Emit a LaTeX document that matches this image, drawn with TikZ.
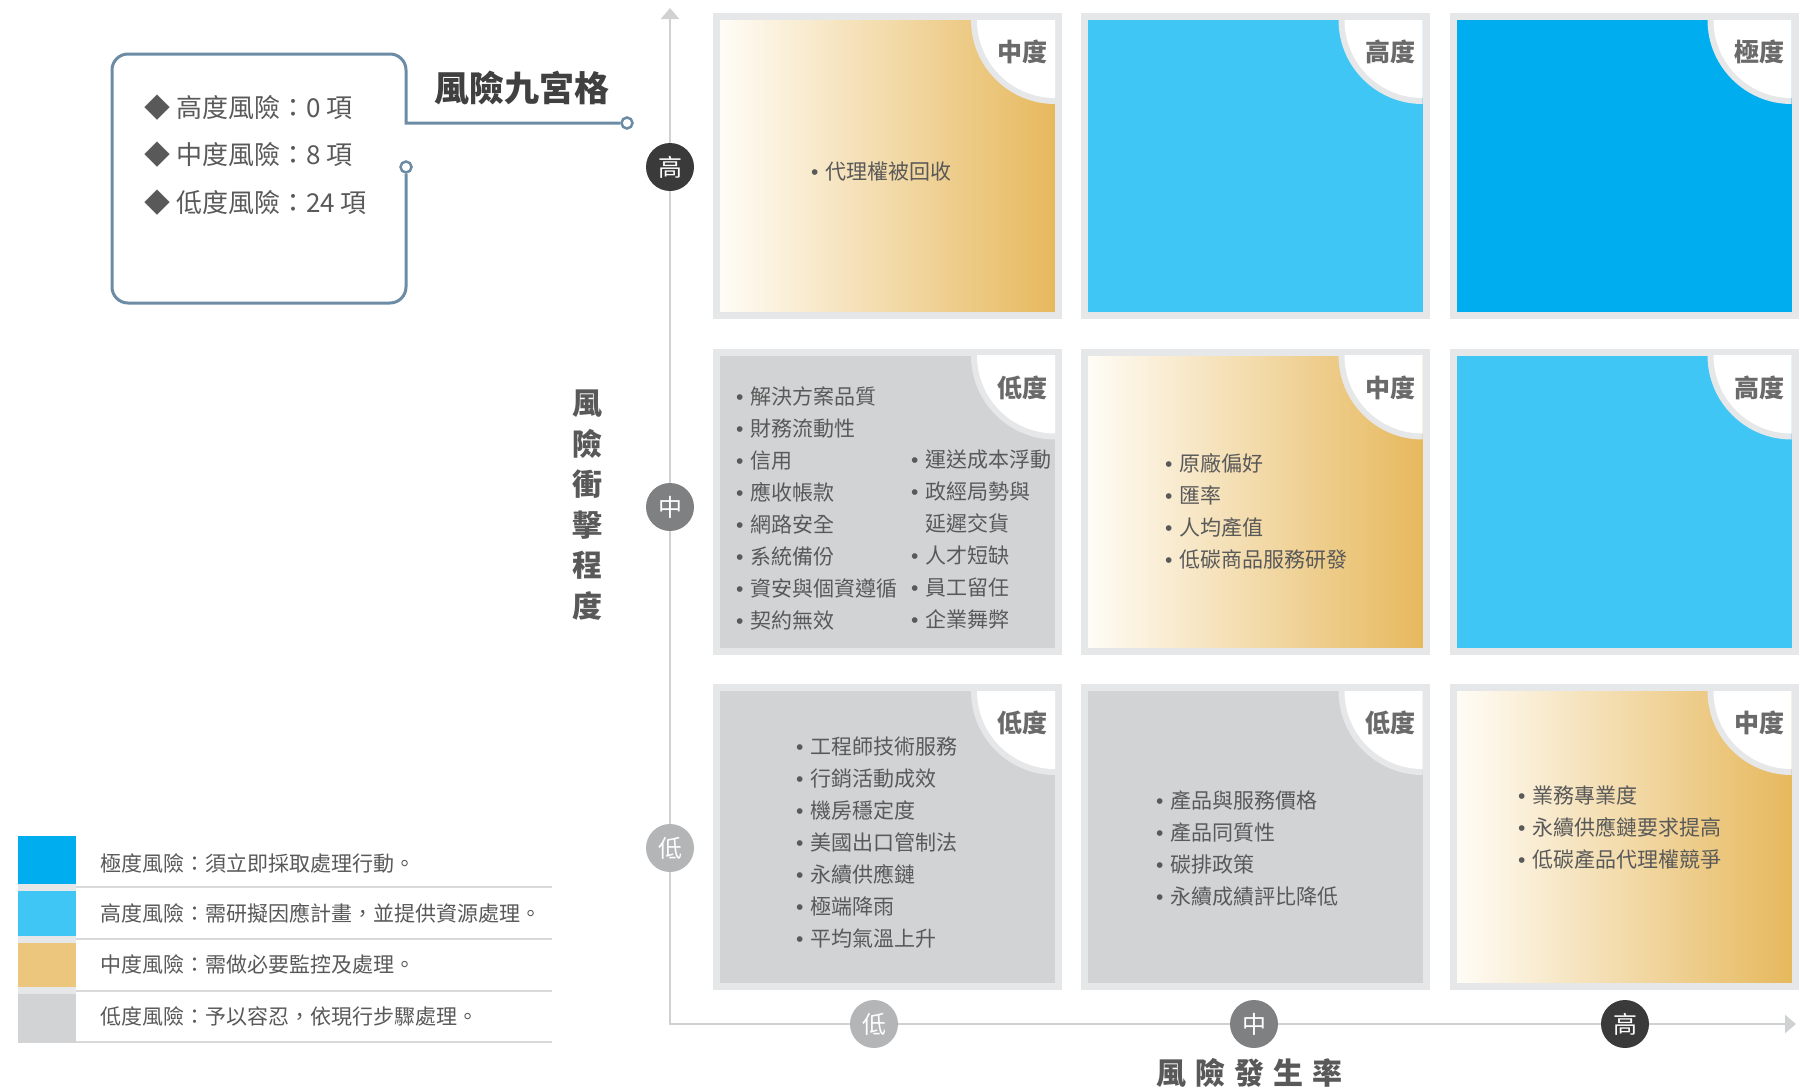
\documentclass[tikz,border=0pt]{standalone}
\usepackage{fontspec}
\setmainfont{Noto Sans CJK TC}
\newfontfamily\latinf{Liberation Sans}
\usepackage{xcolor}
\usetikzlibrary{arrows.meta, positioning, calc}

\definecolor{cellborder}{HTML}{E6E7E8}
\definecolor{lowgray}{HTML}{D1D3D4}
\definecolor{highblue}{HTML}{3FC6F4}
\definecolor{extblue}{HTML}{00AEEF}
\definecolor{goldstart}{HTML}{FFFDF8}
\definecolor{goldend}{HTML}{E6B85C}
\definecolor{goldswatch}{HTML}{EBC67C}
\definecolor{boxblue}{HTML}{6C8CA5}
\definecolor{axisgray}{HTML}{D0D1D3}
\definecolor{textgray}{HTML}{595959}
\definecolor{labgray}{HTML}{6A6A6A}
\definecolor{dothigh}{HTML}{3A3A3A}
\definecolor{dotmid}{HTML}{7F8082}
\definecolor{dotlow}{HTML}{B4B5B7}

\newcommand{\bul}{{\latinf •}\hspace{6.5pt}}

% one cell of the grid: name, x, y, fill style, corner label
\newcommand{\riskcell}[5]{%
  \node[cellbox, #4] (#1) at (#2,#3) {};
  \begin{scope}
    \clip ($(#1.south west)+(3.5,-3.5)$) rectangle ($(#1.north east)+(-3.5,3.5)$);
    \fill[cellborder] ($(#1.north east)+(-3.5,3.5)$) circle (84pt);
    \fill[white] ($(#1.north east)+(-3.5,3.5)$) circle (78pt);
  \end{scope}
  \node[cornerlab, anchor=east] (#1-lab) at ($(#1.north east)+(-10.5,35.5)$) {#5};
}

\begin{document}
\begin{tikzpicture}[
  x=1pt, y=-1pt,
  cellbox/.style={draw=cellborder, line width=7pt, minimum width=342pt, minimum height=299pt, inner sep=0pt, outer sep=0pt},
  lowfill/.style={fill=lowgray},
  midfill/.style={left color=goldstart, right color=goldend},
  highfill/.style={fill=highblue},
  extfill/.style={fill=extblue},
  cornerlab/.style={font=\fontsize{25}{28}\selectfont\bfseries, text=labgray, inner sep=0pt},
  items/.style={font=\fontsize{21}{32}\selectfont, text=textgray, align=left, inner sep=0pt, anchor=west},
  axdot/.style={circle, minimum size=48pt, inner sep=0pt, text=white, font=\fontsize{24}{26}\selectfont},
  axisline/.style={draw=axisgray, line width=2.5pt},
  axislab/.style={text=textgray, inner sep=0pt, font=\fontsize{30}{40.6}\selectfont\bfseries},
  boxline/.style={draw=boxblue, line width=3pt},
  pindot/.style={circle, draw=boxblue, line width=2.5pt, fill=white, minimum size=11pt, inner sep=0pt},
  titlelab/.style={font=\fontsize{35}{38}\selectfont\bfseries, text=black!75, inner sep=0pt},
  boxlist/.style={font=\fontsize{26}{47.5}\selectfont, text=textgray, align=left, inner sep=0pt, anchor=west},
  swatch/.style={minimum width=58pt, inner sep=0pt, outer sep=0pt},
  legtext/.style={font=\fontsize{21}{24}\selectfont, text=textgray, anchor=west, inner sep=0pt},
  sepline/.style={draw=black!15, line width=2pt}
]
\fill[white] (0,0) rectangle (1800,1092);
\useasboundingbox (0,0) rectangle (1800,1092);

% axes
\coordinate (ytop) at (670,8);
\coordinate (origin) at (670,1024);
\coordinate (xend) at (1796,1024);
\draw[axisline, {Triangle[width=18pt,length=11pt]}-{Triangle[width=18pt,length=11pt]}] (ytop) -- (origin) -- (xend);

% grid
\riskcell{cellHL}{887.5}{166}{midfill}{中度}
\riskcell{cellHM}{1255}{166}{highfill}{高度}
\riskcell{cellHH}{1624}{166}{extfill}{極度}
\riskcell{cellML}{887.5}{501.5}{lowfill}{低度}
\riskcell{cellMM}{1255}{501.5}{midfill}{中度}
\riskcell{cellMH}{1624}{501.5}{highfill}{高度}
\riskcell{cellLL}{887.5}{837}{lowfill}{低度}
\riskcell{cellLM}{1255}{837}{lowfill}{低度}
\riskcell{cellLH}{1624}{837}{midfill}{中度}

% risk items
\node[items] (listHL) at (811,172) {\bul 代理權被回收};
\node[items] (listML) at (736,508) {\bul 解決方案品質\\\bul 財務流動性\\\bul 信用\\\bul 應收帳款\\\bul 網路安全\\\bul 系統備份\\\bul 資安與個資遵循\\\bul 契約無效};
\node[items] (listMLb) at (911,540) {\bul 運送成本浮動\\\bul 政經局勢與\\\hphantom{\bul}延遲交貨\\\bul 人才短缺\\\bul 員工留任\\\bul 企業舞弊};
\node[items] (listMM) at (1165,511) {\bul 原廠偏好\\\bul 匯率\\\bul 人均產值\\\bul 低碳商品服務研發};
\node[items] (listLL) at (796,842.5) {\bul 工程師技術服務\\\bul 行銷活動成效\\\bul 機房穩定度\\\bul 美國出口管制法\\\bul 永續供應鏈\\\bul 極端降雨\\\bul 平均氣溫上升};
\node[items] (listLM) at (1156,848) {\bul 產品與服務價格\\\bul 產品同質性\\\bul 碳排政策\\\bul 永續成績評比降低};
\node[items] (listLH) at (1518,828) {\bul 業務專業度\\\bul 永續供應鏈要求提高\\\bul 低碳產品代理權競爭};

% axis marks
\node[axdot, fill=dothigh] (yHigh) at (670,167) {高};
\node[axdot, fill=dotmid] (yMid) at (670,507) {中};
\node[axdot, fill=dotlow] (yLow) at (670,848) {低};
\node[axdot, fill=dotlow] (xLow) at (874,1024) {低};
\node[axdot, fill=dotmid] (xMid) at (1254,1024) {中};
\node[axdot, fill=dothigh] (xHigh) at (1625,1024) {高};

\node[axislab, align=center] (yTitle) at (587,505) {風\\險\\衝\\擊\\程\\度};
\node[axislab] (xTitle) at (1249,1073) {風\hspace{9pt}險\hspace{9pt}發\hspace{9pt}生\hspace{9pt}率};

% summary box
\node[pindot] (dotTitle) at (627,123) {};
\node[pindot] (dotBox) at (406,167) {};
\draw[boxline] (dotBox.south) [rounded corners=16pt] -- (406,303) -- (112,303) -- (112,54) -- (406,54) -- (406,100) [sharp corners] -- (406,123) -- (dotTitle.west);
\node[titlelab] (title) at (522,88) {風險九宮格};
\node[boxlist] (counts) at (144,155) {◆ 高度風險：0 項\\◆ 中度風險：8 項\\◆ 低度風險：24 項};

% legend
\fill[cellborder] (18,836) rectangle (76,1043);
\node[swatch, fill=extblue, minimum height=48pt] (swExt) at (47,860) {};
\node[swatch, fill=highblue, minimum height=45pt] (swHigh) at (47,913.5) {};
\node[swatch, fill=goldswatch, minimum height=44pt] (swMid) at (47,965) {};
\node[swatch, fill=lowgray, minimum height=49pt] (swLow) at (47,1018.5) {};
\draw[sepline] (76,887) -- (552,887);
\draw[sepline] (76,939) -- (552,939);
\draw[sepline] (76,991) -- (552,991);
\draw[sepline] (76,1042) -- (552,1042);
\node[legtext] (legExt) at (100,863) {極度風險：須立即採取處理行動。};
\node[legtext] (legHigh) at (100,913) {高度風險：需研擬因應計畫，並提供資源處理。};
\node[legtext] (legMid) at (100,965) {中度風險：需做必要監控及處理。};
\node[legtext] (legLow) at (100,1016) {低度風險：予以容忍，依現行步驟處理。};
\end{tikzpicture}
\end{document}
